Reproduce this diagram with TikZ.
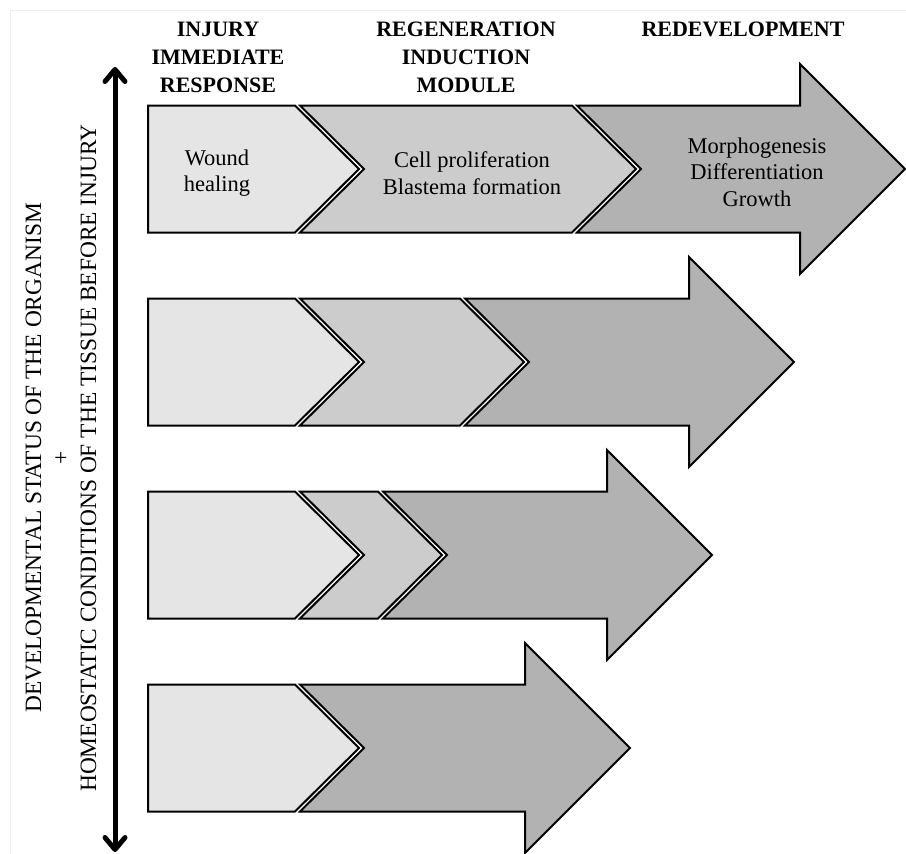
\documentclass[tikz,border=0pt]{standalone}
\usepackage{fontspec}
\setmainfont{Liberation Serif}
\usetikzlibrary{arrows.meta}
\tikzset{
 stage1/.style={draw=black,line width=2pt,fill=black!10},
 stage2/.style={draw=black,line width=2pt,fill=black!20},
 stage3/.style={draw=black,line width=2pt,fill=black!30},
 head/.style={font=\bfseries\fontsize{22}{28}\selectfont,align=center},
 body/.style={font=\fontsize{22.5}{26.5}\selectfont,align=center},
 side/.style={font=\fontsize{23.4}{27.5}\selectfont,align=center,rotate=90},
 axis/.style={line width=5pt,{Straight Barb[round,length=12pt,width=20pt]}-{Straight Barb[round,length=12pt,width=20pt]}},
}

\begin{document}
\begin{tikzpicture}[x=1pt,y=-1pt]
    \useasboundingbox (0,0) rectangle (906,854);
    \draw[black!7,line width=0.6pt] (10,854) -- (10,10) -- (906,10);
    % first stage, every row
    \foreach \c in {169,362,555,748}
        \draw[stage1] (148,\c-63.5) -- (295,\c-63.5) -- (359,\c) -- (295,\c+63.5) -- (148,\c+63.5) -- cycle;
    % second stage
    \foreach \c/\f in {169/572,362/460,555/378}
        \draw[stage2] (300,\c-63.5) -- (\f,\c-63.5) -- (\f+64,\c) -- (\f,\c+63.5) -- (300,\c+63.5) -- (364,\c) -- cycle;
    % big arrows
    \foreach \c/\b/\a in {169/577/800,362/465/689,555/383/607,748/300/525}
        \draw[stage3] (\b,\c-63.5) -- (\a,\c-63.5) -- (\a,\c-105) -- (\a+105,\c) -- (\a,\c+105) -- (\a,\c+63.5) -- (\b,\c+63.5) -- (\b+64,\c) -- cycle;

    \node[head] (injury) at (218,57) {INJURY\\IMMEDIATE\\RESPONSE};
    \node[head] (induction) at (466,57) {REGENERATION\\INDUCTION\\MODULE};
    \node[head] (redev) at (743,29) {REDEVELOPMENT};
    \node[body] (wound) at (217,173) {Wound\\healing};
    \node[body] (prolif) at (472,173) {Cell proliferation\\Blastema formation};
    \node[body] (morpho) at (757,172) {Morphogenesis\\Differentiation\\Growth};
    \node[side] (status) at (61,458) {DEVELOPMENTAL STATUS OF THE ORGANISM\\+\\HOMEOSTATIC CONDITIONS OF THE TISSUE BEFORE INJURY};

    \coordinate (up) at (115,67);
    \coordinate (down) at (115,852);
    \draw[axis] (down) -- (up);
\end{tikzpicture}
\end{document}
